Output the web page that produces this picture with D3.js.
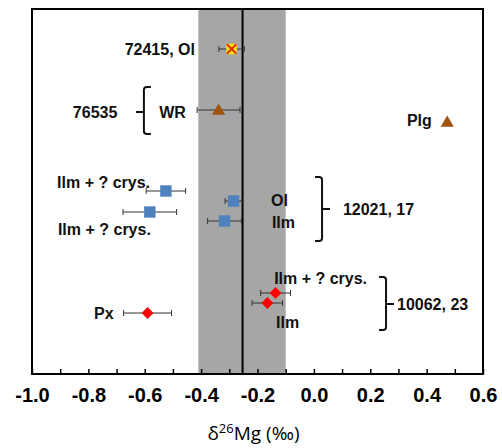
<!DOCTYPE html>
<html>
<head>
<meta charset="utf-8">
<script src="https://cdn.jsdelivr.net/npm/d3@7"></script>
<style>
  body { margin: 0; background: #fff; }
  svg { display: block; font-family: "Liberation Sans", Arial, sans-serif; }
</style>
</head>
<body>
<div id="chart"></div>
<script>
// δ26Mg values (‰) with 2SD error, and the row each sample sits on
const sampleNames = ['72415 Ol', '76535 WR', '76535 Plg', '12021 Ilm+crys a', '12021 Ol',
  '12021 Ilm+crys b', '12021 Ilm', '10062 Ilm+crys', '10062 Ilm', '10062 Px'];
const d26Mg = [-0.292, -0.338, 0.473, -0.525, -0.285, -0.582, -0.317, -0.136, -0.165, -0.590];
const errors = [0.045, 0.076, 0, 0.070, 0.030, 0.095, 0.060, 0.053, 0.054, 0.085];
const rows = [4.0, 10.1, 11.3, 18.2, 19.2, 20.3, 21.2, 28.4, 29.4, 30.4];
const markers = ['xsquare', 'triangle', 'triangle', 'square', 'square', 'square', 'square',
  'diamond', 'diamond', 'diamond'];

// bulk silicate earth band and mean
const bandLow = -0.41;
const bandHigh = -0.10;
const bandMean = -0.253;

const xTicks = [-1.0, -0.9, -0.8, -0.7, -0.6, -0.5, -0.4, -0.3, -0.2, -0.1, 0.0,
  0.1, 0.2, 0.3, 0.4, 0.5, 0.6];
const xTickLabels = ['-1.0', '', '-0.8', '', '-0.6', '', '-0.4', '', '-0.2', '', '0.0',
  '', '0.2', '', '0.4', '', '0.6'];

// annotation texts (x in ‰, y in rows)
const labelTexts = ['72415, Ol', '76535', 'WR', 'Plg', 'Ilm + ? crys.', 'Ilm + ? crys.', 'Px',
  'Ol', 'Ilm', '12021, 17', 'Ilm + ? crys.', 'Ilm', '10062, 23'];
const labelX = [-0.422, -0.855, -0.549, 0.330, -0.911, -0.908, -0.780,
  -0.152, -0.149, 0.103, -0.141, -0.134, 0.295];
const labelRow = [4.0, 10.3, 10.3, 11.1, 17.3, 22.0, 30.4, 19.1, 21.3, 20.0, 26.9, 31.3, 29.5];
const labelAnchor = ['end', 'start', 'start', 'start', 'start', 'start', 'start',
  'start', 'start', 'start', 'start', 'start', 'start'];

// group brackets: x of the spine, top/bottom/tip rows, side the tip points to
const bracketX = [-0.603, 0.029, 0.256];
const bracketTop = [7.8, 16.8, 26.8];
const bracketBottom = [12.5, 23.2, 32.1];
const bracketTip = [10.3, 20.0, 29.5];
const bracketSide = [-1, 1, 1];

const W = 502, H = 448;
const margin = { top: 9, right: 19, bottom: 74, left: 32 };
const width = W - margin.left - margin.right;
const height = H - margin.top - margin.bottom;

const svg = d3.select('#chart').append('svg')
  .attr('width', W)
  .attr('height', H);

const g = svg.append('g')
  .attr('transform', `translate(${margin.left},${margin.top})`);

const x = d3.scaleLinear().domain([-1.0, 0.6]).range([0, width]);
const y = d3.scaleLinear().domain([0, 36.5]).range([0, height]);

// grey band + mean line
g.append('rect')
  .attr('x', x(bandLow))
  .attr('y', 0)
  .attr('width', x(bandHigh) - x(bandLow))
  .attr('height', height)
  .attr('fill', '#a6a6a6');

g.append('line')
  .attr('x1', x(bandMean)).attr('x2', x(bandMean))
  .attr('y1', 0).attr('y2', height)
  .attr('stroke', '#000')
  .attr('stroke-width', 2);

// x axis with inward ticks
const xAxis = d3.axisBottom(x)
  .tickValues(xTicks)
  .tickFormat((d, i) => xTickLabels[i])
  .tickSizeInner(-5)
  .tickSizeOuter(0)
  .tickPadding(14);

const axisG = g.append('g')
  .attr('transform', `translate(0,${height})`)
  .call(xAxis);
axisG.select('.domain').remove();
axisG.selectAll('line').attr('stroke', '#000').attr('stroke-width', 1.5);
axisG.selectAll('text')
  .attr('fill', '#000')
  .attr('font-size', 20)
  .attr('font-weight', 'bold')
  .attr('font-family', '"Liberation Sans", Arial, sans-serif');

// frame
g.append('rect')
  .attr('width', width)
  .attr('height', height)
  .attr('fill', 'none')
  .attr('stroke', '#000')
  .attr('stroke-width', 2);

// axis title
const title = svg.append('text')
  .attr('x', margin.left + width / 2 - 4)
  .attr('y', 440)
  .attr('text-anchor', 'middle')
  .attr('font-size', 19)
  .attr('font-family', '"Open Sans", "Noto Sans", sans-serif')
  .attr('fill', '#000');
title.append('tspan').text('δ');
title.append('tspan').attr('font-size', 13).attr('dy', -7).text('26');
title.append('tspan').attr('dy', 7).text('Mg (‰)');

// error bars
const points = sampleNames.map((name, i) => ({
  name, v: d26Mg[i], e: errors[i], row: rows[i], marker: markers[i]
}));

const eb = g.append('g').attr('stroke', '#333').attr('stroke-width', 1);
points.filter(d => d.e > 0).forEach(d => {
  const cy = y(d.row);
  eb.append('line')
    .attr('x1', x(d.v - d.e)).attr('x2', x(d.v + d.e))
    .attr('y1', cy).attr('y2', cy);
  [d.v - d.e, d.v + d.e].forEach(v => {
    eb.append('line')
      .attr('x1', x(v)).attr('x2', x(v))
      .attr('y1', cy - 3).attr('y2', cy + 3);
  });
});

// markers
const symbols = {
  triangle: { type: d3.symbolTriangle, size: 75, fill: '#a0520f' },
  square: { type: d3.symbolSquare, size: 130, fill: '#4f81bd' },
  diamond: { type: d3.symbolDiamond, size: 70, fill: '#ff0000' },
  xsquare: { type: d3.symbolSquare, size: 110, fill: '#ffe600' }
};

points.forEach(d => {
  const s = symbols[d.marker];
  const mg = g.append('g')
    .attr('transform', `translate(${x(d.v)},${y(d.row)})`);
  if (d.marker === 'diamond') {
    mg.append('path')
      .attr('d', d3.symbol().type(d3.symbolSquare).size(s.size)())
      .attr('transform', 'rotate(45)')
      .attr('fill', s.fill);
  } else {
    mg.append('path')
      .attr('d', d3.symbol().type(s.type).size(s.size)())
      .attr('fill', s.fill)
      .attr('transform', d.marker === 'triangle' ? 'translate(0,1)' : null);
  }
  if (d.marker === 'xsquare') {
    mg.append('path')
      .attr('d', d3.symbol().type(d3.symbolX).size(60)())
      .attr('stroke', '#e03010')
      .attr('stroke-width', 2);
  }
});

// labels
labelTexts.forEach((t, i) => {
  g.append('text')
    .attr('x', x(labelX[i]))
    .attr('y', y(labelRow[i]))
    .attr('dy', '0.35em')
    .attr('text-anchor', labelAnchor[i])
    .attr('font-size', 16)
    .attr('font-weight', 'bold')
    .attr('fill', '#111')
    .text(t);
});

// brackets
bracketX.forEach((bx, i) => {
  const px = x(bx), t = y(bracketTop[i]), b = y(bracketBottom[i]), m = y(bracketTip[i]);
  const s = bracketSide[i];
  const hook = -s * 7, tip = s * 8, r = 3;
  const path = d3.path();
  path.moveTo(px + hook, t);
  path.lineTo(px + (hook > 0 ? r : -r), t);
  path.quadraticCurveTo(px, t, px, t + r);
  path.lineTo(px, b - r);
  path.quadraticCurveTo(px, b, px + (hook > 0 ? r : -r), b);
  path.lineTo(px + hook, b);
  path.moveTo(px, m);
  path.lineTo(px + tip, m);
  g.append('path')
    .attr('d', path.toString())
    .attr('fill', 'none')
    .attr('stroke', '#111')
    .attr('stroke-width', 2);
});
</script>
</body>
</html>
